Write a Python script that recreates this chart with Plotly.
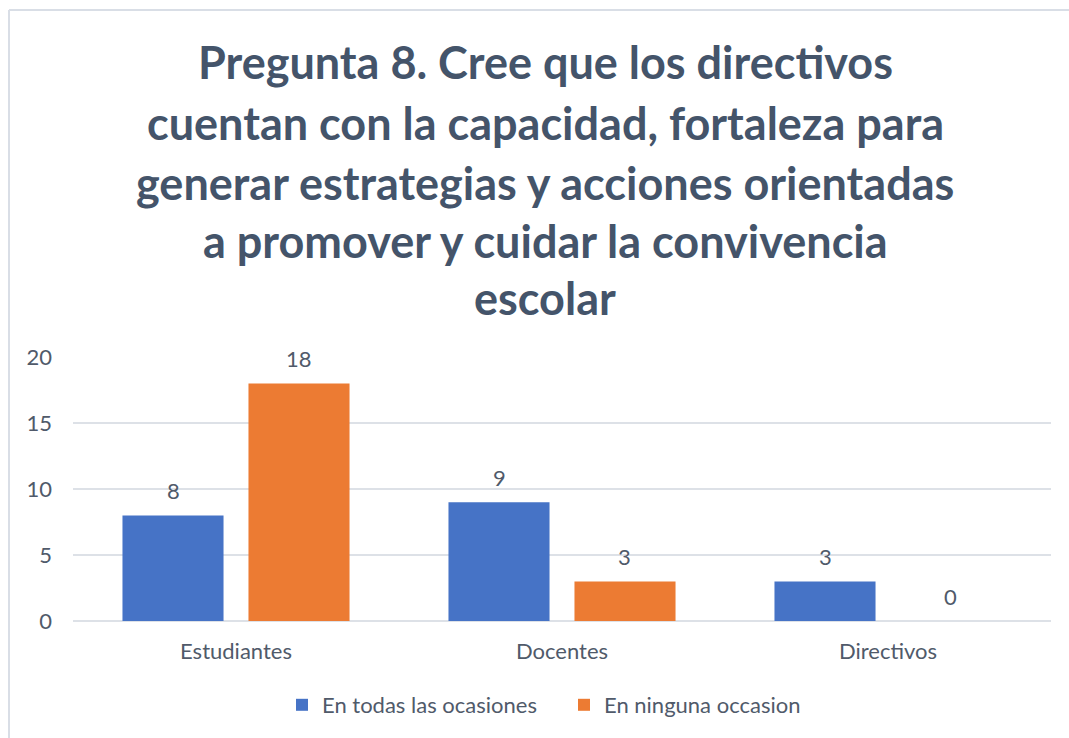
import plotly.graph_objects as go

categories = ["Estudiantes", "Docentes", "Directivos"]
series_names = ["En todas las ocasiones", "En ninguna occasion"]
todas = [8, 9, 3]
ninguna = [18, 3, 0]
y_ticks = [0, 5, 10, 15, 20]
title_lines = [
    "Pregunta 8. Cree que los directivos",
    "cuentan con la capacidad, fortaleza para",
    "generar estrategias y acciones orientadas",
    "a promover y cuidar la convivencia",
    "escolar",
]

W, H = 1069, 738
L, R, T, B = 73, 1051, 357, 621  # plot area in page pixels
TXT = "#505a6a"
TITLE = "#44546A"
FONT = "Lato"
SMALL = 22
BLUE = "#4673C6"
ORANGE = "#EC7B33"
BORDER = "#d9dee6"

fig = go.Figure()
fig.add_trace(go.Bar(name=series_names[0], x=categories, y=todas,
                     marker=dict(color=BLUE, line=dict(width=0))))
fig.add_trace(go.Bar(name=series_names[1], x=categories, y=ninguna,
                     marker=dict(color=ORANGE, line=dict(width=0))))


def px_x(px):
    return (px - L) / (R - L)


def px_y(py):
    return (B - py) / (B - T)


annotations = []
title_centers = [62, 123, 183, 241, 298]
for line, yc in zip(title_lines, title_centers):
    annotations.append(dict(
        text=line, xref="paper", yref="paper", x=px_x(545), y=px_y(yc),
        xanchor="center", yanchor="middle", showarrow=False,
        font=dict(size=45, color=TITLE, family=FONT, weight="bold"),
    ))

# data labels above bars, placed through the axes
BARGAP = 0.227
cat_w = (R - L) / len(categories)
slot = cat_w * (1 - BARGAP) / 2
for values, sign in ((todas, -1), (ninguna, 1)):
    for c, v in zip(categories, values):
        annotations.append(dict(
            text=str(v), x=c, y=v, xref="x", yref="y", showarrow=False,
            xanchor="center", yanchor="middle", xshift=sign * slot / 2, yshift=25,
            font=dict(size=SMALL, color=TXT, family=FONT),
        ))

fig.update_layout(
    width=W, height=H, autosize=False,
    margin=dict(l=L, r=W - R, t=T, b=H - B, pad=0),
    paper_bgcolor="white", plot_bgcolor="white",
    barmode="group", bargap=BARGAP, bargroupgap=0.198,
    font=dict(family=FONT, color=TXT, size=SMALL),
    showlegend=True,
    legend=dict(orientation="h", xanchor="left", yanchor="middle",
                x=px_x(282), y=px_y(705), font=dict(size=SMALL, color=TXT, family=FONT),
                entrywidth=237, entrywidthmode="pixels", tracegroupgap=0),
    annotations=annotations,
    shapes=[
        dict(type="line", xref="paper", yref="paper",
             x0=px_x(9), x1=px_x(9), y0=px_y(10), y1=px_y(760),
             line=dict(color=BORDER, width=2), layer="below"),
        dict(type="line", xref="paper", yref="paper",
             x0=px_x(9), x1=px_x(1100), y0=px_y(10), y1=px_y(10),
             line=dict(color=BORDER, width=2), layer="below"),
    ],
)
fig.update_xaxes(showgrid=False, showline=False, zeroline=False, ticks="",
                 tickfont=dict(size=SMALL, color=TXT, family=FONT), ticklabelstandoff=15)
fig.update_yaxes(range=[0, 20], tickvals=y_ticks, showgrid=True, gridcolor="#dde1e7",
                 gridwidth=1.5, zeroline=True, zerolinecolor="#dde1e7", zerolinewidth=1.5,
                 showline=False, ticks="", tickfont=dict(size=SMALL, color=TXT, family=FONT),
                 ticklabelstandoff=20)

fig.write_html(
    "out.html",
    config={"displayModeBar": False},
    post_script="document.body.style.margin='0';document.body.style.overflow='hidden';",
)
